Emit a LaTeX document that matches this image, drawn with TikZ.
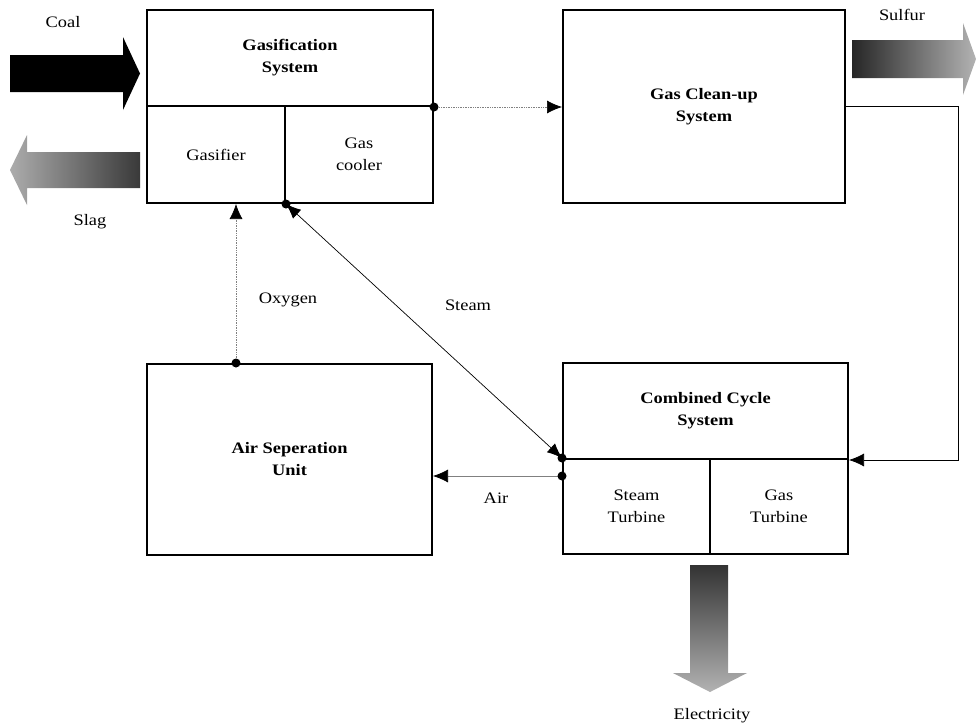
\documentclass[tikz,border=0pt]{standalone}
\usepackage{fontspec}
\setmainfont[FakeStretch=1.15]{Liberation Serif}
\usetikzlibrary{arrows.meta,calc}

\newcommand\diagfont{\fontsize{16}{22}\selectfont}

\begin{document}
\begin{tikzpicture}[x=1pt,y=-1pt,
  box/.style={draw, line width=2pt, inner sep=0pt, align=center, font=\diagfont},
  head/.style={box, font=\diagfont\bfseries},
  lbl/.style={inner sep=1pt, font=\diagfont},
  dot/.style={circle, fill, inner sep=0pt, minimum size=9pt},
  tip/.style={-{Latex[length=15pt,width=13pt,black]}},
  flow/.style={line width=0.7pt}]

\useasboundingbox (0,0) rectangle (976,726);

% boxes
\node[head, minimum width=286pt, minimum height=96pt] (gasTop) at (290,58) {Gasification\\System};
\node[box, minimum width=138pt, minimum height=97pt] (gasifier) at (216,154.5) {Gasifier};
\node[box, minimum width=148pt, minimum height=97pt] (cooler) at (359,154.5) {Gas\\cooler};
\node[head, minimum width=282pt, minimum height=193pt] (clean) at (704,106.5) {Gas Clean-up\\System};
\node[head, minimum width=285pt, minimum height=191pt] (asu) at (289.5,459.5) {Air Seperation\\Unit};
\node[head, minimum width=285pt, minimum height=96pt] (ccTop) at (705.5,411) {Combined Cycle\\System};
\node[box, minimum width=147pt, minimum height=95pt] (steamT) at (636.5,506.5) {Steam\\Turbine};
\node[box, minimum width=138pt, minimum height=95pt] (gasT) at (779,506.5) {Gas\\Turbine};

% thin connectors
\coordinate (synSrc) at (gasTop.south east);
\coordinate (o2Src) at ($(asu.north west)+(90,0)$);
\coordinate (airSrc) at ($(steamT.north west)+(0,18)$);

\draw[tip, flow, gray, densely dotted] (synSrc) -- (synSrc -| clean.west);
\draw[tip, flow, gray, densely dotted] (o2Src) -- (o2Src |- gasifier.south);
\draw[{Latex[length=15pt,width=12pt]}-{Latex[length=15pt,width=12pt]}, flow]
  (gasifier.south east) -- (steamT.north west);
\draw[tip, flow, gray] (airSrc) -- (airSrc -| asu.east);
\draw[tip, flow] (clean.east) -- ++(112,0) |- (ccTop.south east);

\node[dot] (synDot) at (synSrc) {};
\node[dot] (o2Dot) at (o2Src) {};
\node[dot] (airDot) at (airSrc) {};
\node[dot] (steamDotA) at (gasifier.south east) {};
\node[dot] (steamDotB) at (steamT.north west) {};

% fat arrows
\fill[black] (10,55) -- (123,55) -- (123,37) -- (140,73.5) -- (123,110) -- (123,92) -- (10,92) -- cycle;
\shade[left color=gray!65, right color=gray!45!black]
  (140,152) -- (27,152) -- (27,135) -- (10,170) -- (27,205) -- (27,188) -- (140,188) -- cycle;
\shade[left color=gray!30!black, right color=gray!60]
  (852,40) -- (963,40) -- (963,23) -- (976,59) -- (963,95) -- (963,78) -- (852,78) -- cycle;
\shade[top color=gray!40!black, bottom color=gray!60]
  (690,565) -- (728,565) -- (728,673) -- (747,673) -- (710,692) -- (673,673) -- (690,673) -- cycle;

% labels
\node[lbl] (coalLbl) at (63,22) {Coal};
\node[lbl] (slagLbl) at (90,222) {Slag};
\node[lbl] (sulfurLbl) at (902,15) {Sulfur};
\node[lbl] (o2Lbl) at (288,300) {Oxygen};
\node[lbl] (steamLbl) at (468,305) {Steam};
\node[lbl] (airLbl) at (496,498) {Air};
\node[lbl] (elecLbl) at (712,716) {Electricity};
\end{tikzpicture}
\end{document}
